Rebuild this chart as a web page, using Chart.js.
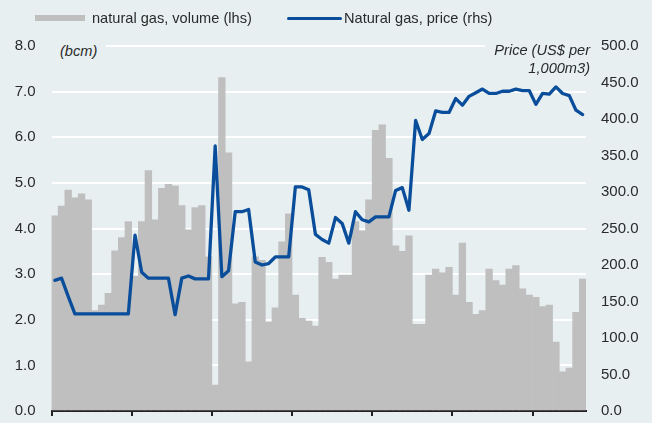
<!DOCTYPE html>
<html><head><meta charset="utf-8">
<script src="https://cdn.jsdelivr.net/npm/chart.js@4.4.1/dist/chart.umd.min.js"></script>
<style>
html,body{margin:0;padding:0;background:#e7eff1;}
#wrap{position:relative;width:652px;height:423px;overflow:hidden;font-family:"Liberation Sans",Arial,sans-serif;color:#2a2a2a;}
canvas{position:absolute;left:0;top:0;}
.t{position:absolute;white-space:nowrap;font-size:14.6px;line-height:18px;}
.i{font-style:italic;}
</style></head><body>
<div id="wrap">
<canvas id="c" width="652" height="423"></canvas>
<div style="position:absolute;left:35px;top:15px;width:50px;height:6px;background:#bfbfbf"></div>
<div class="t" style="left:92px;top:9px">natural gas, volume (lhs)</div>
<div style="position:absolute;left:287px;top:16.5px;width:55px;height:3.3px;background:#0a4e9b;border-radius:1.6px"></div>
<div class="t" style="left:344px;top:9px">Natural gas, price (rhs)</div>
<div class="t i" style="left:52px;top:42px;width:54px;box-sizing:border-box;padding-left:8px;background:#e7eff1">(bcm)</div>
<div class="t i" style="left:485px;top:41px;width:105px;text-align:right;background:#e7eff1">Price (US$ per</div>
<div class="t i" style="left:485px;top:59px;width:105px;text-align:right">1,000m3)</div>
</div>
<script>
// ---- data ----
const startYear = 2007;
const monthNames = ["Jan","Feb","Mar","Apr","May","Jun","Jul","Aug","Sep","Oct","Nov","Dec"];
const categories = [];
for (let k = 0; k < 80; k++) {
  categories.push(monthNames[k % 12] + "-" + String(startYear + Math.floor(k / 12)).slice(2));
}
// natural gas volume, bcm (lhs)
const volume = [4.28,4.49,4.84,4.67,4.76,4.63,2.20,2.32,2.58,3.51,
                3.80,4.15,2.95,4.15,5.27,4.19,4.88,4.97,4.93,4.50,
                3.97,4.46,4.50,3.38,0.57,7.31,5.66,2.35,2.38,1.08,
                3.38,3.30,1.95,2.26,3.71,4.32,2.54,2.03,1.97,1.86,
                3.37,3.26,2.89,2.98,2.98,4.15,3.95,4.63,6.15,6.27,
                5.54,3.62,3.50,3.84,1.90,1.90,2.98,3.11,3.03,3.15,
                2.54,3.68,2.38,2.12,2.20,3.11,2.86,2.76,3.11,3.19,
                2.68,2.54,2.49,2.29,2.32,1.51,0.86,0.94,2.16,2.89];
// natural gas price, US$ per 1,000m3 (rhs)
const price = [179,182,157,133,133,133,133,133,133,133,
               133,133,241,190,182,182,182,182,132,182,
               185,181,181,181,363,184,192,273,273,276,
               204,200,202,211,211,211,307,307,303,242,
               235,230,265,257,230,273,262,259,266,266,
               266,302,306,275,398,372,380,411,409,409,
               428,419,431,436,441,435,435,438,438,441,
               439,439,420,435,434,444,435,432,412,406];
const leftTickStep = 1;
const rightTickStep = 50;

const FONT = '"Liberation Sans", Arial, sans-serif';
function noVPad(s, w) { s.width = w; s.paddingTop = 0; s.paddingBottom = 0; }
new Chart(document.getElementById('c').getContext('2d'), {
  type: 'bar',
  data: {
    labels: categories,
    datasets: [
      { type: 'line', label: 'Natural gas, price (rhs)', data: price, yAxisID: 'y1',
        borderColor: '#0a4e9b', borderWidth: 3.3, pointRadius: 0, tension: 0,
        borderJoinStyle: 'round', borderCapStyle: 'round', order: 0 },
      { type: 'bar', label: 'natural gas, volume (lhs)', data: volume, yAxisID: 'y',
        backgroundColor: '#bfbfbf', borderWidth: 0, barPercentage: 1, categoryPercentage: 1, order: 1 }
    ]
  },
  options: {
    responsive: false, animation: false, devicePixelRatio: 1,
    layout: { padding: { top: 46, left: 0, right: 0, bottom: 0 } },
    plugins: { legend: { display: false }, tooltip: { enabled: false } },
    scales: {
      x: {
        offset: true,
        grid: { offset: true, drawOnChartArea: false, drawTicks: true, tickLength: 5, lineWidth: 2,
                color: (c) => (c.index % 12 === 0 && c.index < 80) ? '#222' : 'rgba(0,0,0,0)' },
        border: { display: true, color: '#222', width: 2 },
        ticks: { display: false, autoSkip: false },
        afterFit: (s) => { s.height = 12; s.paddingLeft = 0; s.paddingRight = 0; }
      },
      y: {
        position: 'left', min: 0, max: 8,
        ticks: { stepSize: leftTickStep, callback: (v) => Number(v).toFixed(1), padding: 16,
                 color: '#2a2a2a', font: { family: FONT, size: 15 } },
        grid: { color: '#ffffff', lineWidth: 2, drawTicks: false },
        border: { display: false },
        afterFit: (s) => noVPad(s, 51.5)
      },
      y1: {
        position: 'right', min: 0, max: 500,
        ticks: { stepSize: rightTickStep, callback: (v) => Number(v).toFixed(1), padding: 15,
                 color: '#2a2a2a', font: { family: FONT, size: 15 } },
        grid: { display: false, drawTicks: false },
        border: { display: false },
        afterFit: (s) => noVPad(s, 66)
      }
    }
  }
});
</script>
</body></html>
